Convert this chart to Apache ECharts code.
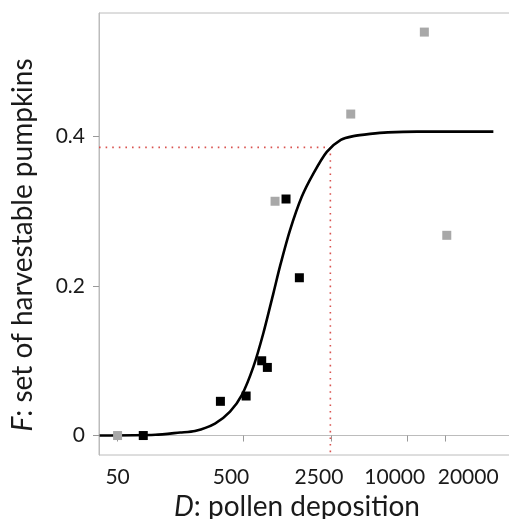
<!DOCTYPE html>
<html>
<head>
<meta charset="utf-8">
<script src="https://cdn.jsdelivr.net/npm/echarts@6/dist/echarts.min.js"></script>
<style>
html,body{margin:0;padding:0;background:#fff;}
#c{width:509px;height:519px;}
</style>
</head>
<body>
<div id="c"></div>
<script>
// Data
const grayD = [50, 891, 3557, 13670, 20600];
const grayF = [0, 0.313, 0.4295, 0.539, 0.2675];
const blackD = [80, 328, 525, 698, 774, 1089, 1390];
const blackF = [0, 0.0457, 0.0528, 0.0999, 0.091, 0.316, 0.2108];
const curveD = [36, 100, 157, 206, 297, 391, 485, 600, 720, 864, 975, 1172, 1452, 1795, 2295, 2965, 3733, 5070, 7000, 12000, 48300];
const curveF = [0, 0.001, 0.004, 0.006, 0.016, 0.032, 0.054, 0.092, 0.137, 0.190, 0.226, 0.2745, 0.319, 0.350, 0.379, 0.395, 0.400, 0.403, 0.405, 0.406, 0.406];
const refD = 2450;
const refF = 0.385;
const xTicks = [50, 500, 2500, 10000, 20000];
const yTicks = [0, 0.2, 0.4];

const xMin = 35.6, xMax = 94400;
const yMin = -0.026, yMax = 0.5645;

const zip = (a, b) => a.map((v, i) => [v, b[i]]);
const font = 'Lato, "Open Sans", sans-serif';
const txt = '#1a1a1a';

// label nudges as drawn in the reference (label text sits off its tick)
const labelStyleKey = {50: 'c', 500: 'l', 2500: 'l', 10000: 'l', 20000: 'r'};
const tickRich = {
  c: {fontFamily: font, fontSize: 21, color: txt},
  l: {fontFamily: font, fontSize: 21, color: txt, padding: [0, 25, 0, 0]},
  r: {fontFamily: font, fontSize: 21, color: txt, padding: [0, 0, 0, 46]}
};

const chart = echarts.init(document.getElementById('c'));
chart.setOption({
  animation: false,
  backgroundColor: '#fff',
  grid: {left: 99, top: 13, right: -21, bottom: 64, show: true, borderColor: '#bcbcbc', borderWidth: 1,
    containLabel: false, outerBoundsMode: 'none'},
  xAxis: {
    type: 'log', logBase: 10, min: xMin, max: xMax,
    name: '{i|D}: pollen deposition',
    nameLocation: 'middle', nameGap: 37,
    nameTextStyle: {fontFamily: font, fontSize: 28, color: txt, padding: [0, 35, 0, 0],
      rich: {i: {fontStyle: 'italic', fontFamily: font, fontSize: 28, color: txt}}},
    axisLine: {show: true, lineStyle: {color: '#bcbcbc', width: 1}},
    axisTick: {show: true, inside: false, length: 6, customValues: xTicks, lineStyle: {color: '#999'}},
    axisLabel: {customValues: xTicks, interval: 0, hideOverlap: false, fontFamily: font, fontSize: 21,
      color: txt, margin: 12, rich: tickRich,
      formatter: v => {
        const n = Math.round(v);
        return '{' + (labelStyleKey[n] || 'c') + '|' + n + '}';
      }},
    splitLine: {show: false}, minorTick: {show: false}
  },
  yAxis: {
    type: 'value', min: yMin, max: yMax,
    name: '{i|F}: set of harvestable pumpkins',
    nameLocation: 'middle', nameGap: 62, nameRotate: 90,
    nameTextStyle: {fontFamily: font, fontSize: 28, color: txt, padding: [0, 22, 0, 0],
      rich: {i: {fontStyle: 'italic', fontFamily: font, fontSize: 28, color: txt}}},
    axisLine: {show: true, lineStyle: {color: '#bcbcbc', width: 1}},
    axisTick: {show: true, inside: false, length: 6, customValues: yTicks, lineStyle: {color: '#999'}},
    axisLabel: {customValues: yTicks, fontFamily: font, fontSize: 21, color: txt, margin: 14,
      formatter: v => String(Math.round(v * 10) / 10)},
    splitLine: {show: false}
  },
  series: [
    {
      type: 'line', data: [[xMin, refF], [refD, refF], [refD, yMin]],
      showSymbol: false, symbol: 'none', silent: true, z: 1,
      lineStyle: {color: '#d9534f', width: 1.6, type: [1.6, 5]}
    },
    {
      type: 'line', data: zip(curveD, curveF), showSymbol: false, symbol: 'none',
      smooth: 0.25, z: 3,
      lineStyle: {color: '#000', width: 2.6}
    },
    {
      type: 'scatter', data: zip(grayD, grayF), symbol: 'rect', symbolSize: 9, z: 4,
      itemStyle: {color: '#a8a8a8', opacity: 1}
    },
    {
      type: 'scatter', data: zip(blackD, blackF), symbol: 'rect', symbolSize: 9, z: 5,
      itemStyle: {color: '#000', opacity: 1}
    }
  ]
});
</script>
</body>
</html>
